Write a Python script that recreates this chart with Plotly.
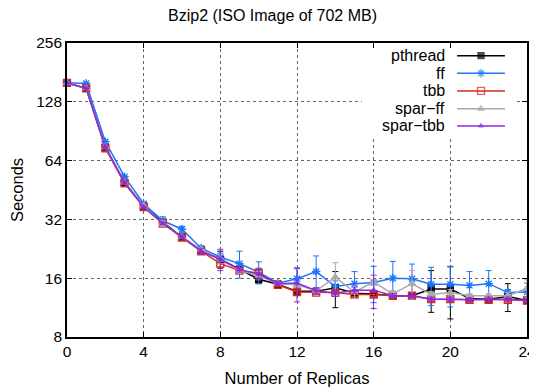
import plotly.graph_objects as go

replicas = list(range(25))
series_names = ["pthread", "ff", "tbb", "spar\u2212ff", "spar\u2212tbb"]

pthread = [160, 150, 75, 49.5, 37.5, 31, 26, 22.3, 20, 17.8, 15.8, 14.9, 13.7, 13.7, 14.3,
           13.4, 13.3, 13.0, 13.0, 14.1, 14.1, 12.6, 12.5, 12.9, 12.3]
pthread_err = [0.5, 0.5, 0.3, 0.3, 0.3, 0.5, 0.3, 0.5, 2.0, 0.5, 0.8, 0.3, 0.5, 0.5, 3.0,
               0.4, 0.4, 0.3, 0.3, 3.4, 4.2, 0.3, 0.3, 2.1, 0.3]
ff = [160, 159, 80, 53, 38.5, 31.5, 28.5, 22.8, 20.5, 19.0, 17.2, 15.1, 15.9, 17.3, 14.5,
      15.0, 15.2, 16.0, 15.9, 14.9, 14.9, 14.7, 15.0, 13.5, 13.6]
ff_err = [0.5, 0.5, 0.5, 0.5, 0.5, 1.5, 1.0, 0.6, 1.0, 3.0, 2.2, 0.4, 2.0, 3.5, 1.0,
          2.3, 3.2, 3.5, 3.0, 3.3, 3.5, 2.6, 2.5, 0.5, 1.5]
tbb = [160, 150, 74, 49, 37, 30.5, 25.8, 22, 19, 17.5, 17.0, 14.8, 13.6, 13.5, 13.5,
       13.2, 13.2, 13.0, 13.0, 12.5, 12.5, 12.4, 12.4, 12.4, 12.3]
tbb_err = [0.5, 0.5, 0.3, 0.3, 0.3, 0.3, 0.3, 0.5, 0.8, 0.3, 1.0, 0.3, 0.3, 0.3, 0.3,
           0.3, 0.3, 0.3, 0.3, 0.3, 0.3, 0.3, 0.3, 0.3, 0.3]
spar_ff = [160, 150, 75, 49.5, 37.5, 30.5, 26, 22.5, 20, 17.5, 16.5, 15, 14.8, 13.8, 16.2,
           13.6, 15.3, 13.3, 15.0, 13.2, 13.5, 13.0, 13.0, 13.0, 14.2]
spar_ff_err = [0.5, 0.5, 0.3, 0.3, 0.3, 1.0, 0.3, 0.5, 1.0, 0.5, 0.8, 0.3, 0.5, 0.5, 3.0,
               1.0, 0.5, 0.5, 2.5, 0.5, 0.5, 0.3, 0.3, 0.5, 1.5]
spar_tbb = [160, 150, 75, 49.5, 37, 30.5, 26, 22, 20, 17.7, 16.8, 15, 15.1, 13.8, 13.4,
            13.9, 13.9, 13.0, 13.0, 12.5, 12.5, 12.4, 12.5, 12.5, 12.3]
spar_tbb_err = [0.5, 0.5, 0.3, 0.3, 0.3, 0.3, 0.3, 0.8, 2.5, 0.5, 1.0, 0.3, 3.0, 0.5, 0.5,
                0.5, 2.7, 0.3, 0.3, 0.3, 0.3, 0.3, 0.3, 0.3, 0.3]

x_ticks = [0, 4, 8, 12, 16, 20, 24]
y_ticks = [8, 16, 32, 64, 128, 256]
y_tick_labels = ["8", "16", "32", "64", "128", "256"]

colors = ["#000000", "#1a75ff", "#d62a1e", "#aaaaaa", "#8a2be2"]
symbols = ["square", "asterisk-open", "square-open", "triangle-up", "triangle-up"]
sizes = [6, 7, 7, 6, 4]
values = [pthread, ff, tbb, spar_ff, spar_tbb]
errors = [pthread_err, ff_err, tbb_err, spar_ff_err, spar_tbb_err]

fig = go.Figure()
for name, vals, errs, c, s, sz in zip(series_names, values, errors, colors, symbols, sizes):
    fig.add_trace(go.Scatter(
        x=replicas, y=vals, name=name, mode="lines+markers",
        line=dict(color=c, width=1.5),
        marker=dict(symbol=s, size=sz, color=c, line=dict(color=c, width=1.4)),
        error_y=dict(type="data", array=errs, visible=True, color=c, thickness=1, width=3),
        cliponaxis=False, showlegend=False,
    ))

# key box background (white, hides grid like gnuplot's opaque key) on overlay axes
key_box_x = [0.641, 0.974, 0.974, 0.641, 0.641]
key_box_y = [0.68, 0.68, 0.981, 0.981, 0.68]
fig.add_trace(go.Scatter(
    x=key_box_x, y=key_box_y, mode="lines", fill="toself", fillcolor="white",
    line=dict(width=0, color="white"), xaxis="x2", yaxis="y2",
    showlegend=False, hoverinfo="skip",
))

# manual legend (text left of sample, as in gnuplot)
leg_y = [0.957, 0.897, 0.837, 0.776, 0.718]
for name, c, s, sz, yy in zip(series_names, colors, symbols, sizes, leg_y):
    fig.add_trace(go.Scatter(
        x=[0.848, 0.9, 0.952], y=[yy, yy, yy], mode="lines+markers",
        line=dict(color=c, width=1.5),
        marker=dict(symbol=s, size=[0, sz, 0], color=c, line=dict(color=c, width=1.4)),
        xaxis="x2", yaxis="y2", showlegend=False, hoverinfo="skip",
    ))
    fig.add_annotation(x=0.826, y=yy, xref="x2", yref="y2", text=name,
                       showarrow=False, xanchor="right", yanchor="middle",
                       font=dict(size=16, color="black"))

axis_common = dict(showline=True, linecolor="black", linewidth=1.6, mirror="allticks",
                   ticks="inside", ticklen=5, tickcolor="black",
                   showgrid=True, gridcolor="#666666", griddash="dot", gridwidth=1,
                   zeroline=False, tickfont=dict(size=15.5, color="black"), automargin=False)

# page body has an 8px margin, so the figure is sized/offset to land the frame at the same pixels
fig.update_layout(
    width=529, height=383,
    margin=dict(l=59, r=10, t=35, b=54),
    paper_bgcolor="white", plot_bgcolor="white",
    font=dict(family="Liberation Sans, Arial, sans-serif", size=16, color="black"),
    title=dict(text="Bzip2 (ISO Image of 702 MB)", x=0.5, xanchor="center",
               y=1 - 7 / 383, yanchor="middle", yref="container",
               font=dict(size=16, color="black")),
    xaxis=dict(range=[0, 24], tickvals=x_ticks,
               title=dict(text="Number of Replicas", font=dict(size=16.5), standoff=13),
               **axis_common),
    yaxis=dict(type="log", range=[0.90309, 2.40824], tickvals=y_ticks, ticktext=y_tick_labels,
               title=dict(text="Seconds", font=dict(size=16.5), standoff=12),
               **axis_common),
    xaxis2=dict(range=[0, 1], overlaying="x", visible=False, fixedrange=True),
    yaxis2=dict(range=[0, 1], overlaying="y", visible=False, fixedrange=True),
)

fig.write_html("out.html")
